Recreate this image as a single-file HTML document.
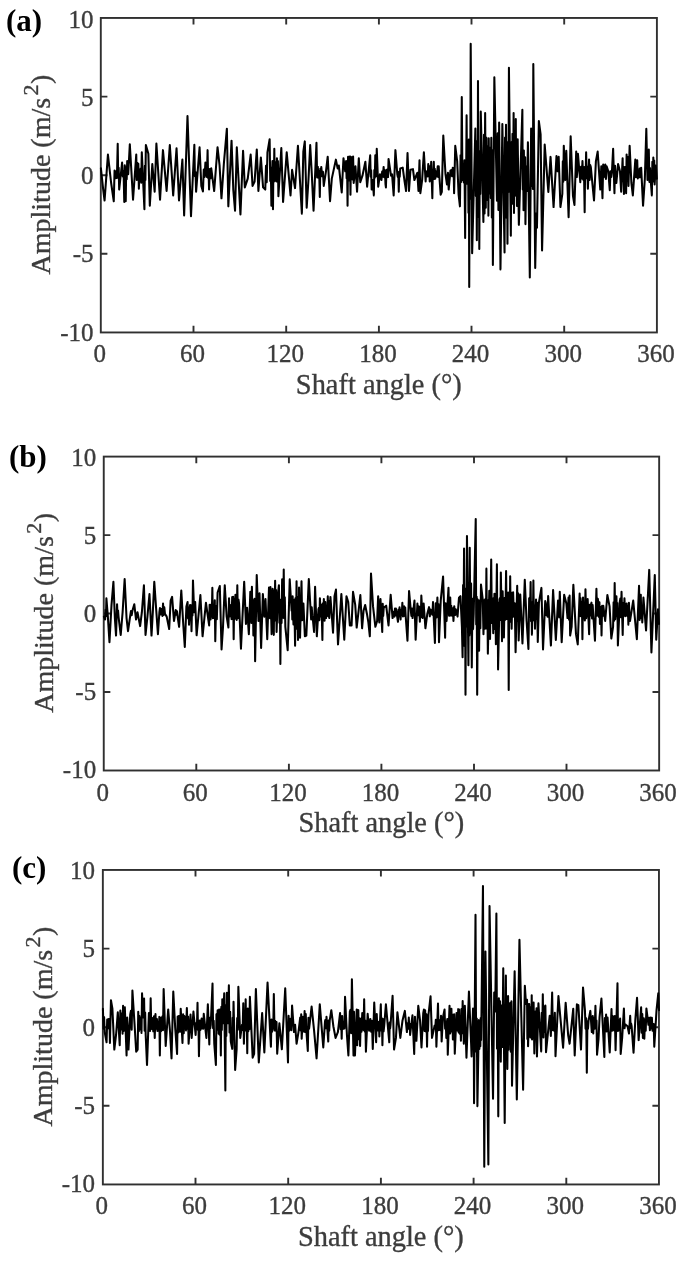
<!DOCTYPE html>
<html><head><meta charset="utf-8"><title>Signals</title>
<style>
html,body{margin:0;padding:0;background:#fff;}
body{width:685px;height:1262px;overflow:hidden;font-family:"Liberation Serif",serif;}
svg{display:block;position:absolute;left:0;top:0;filter:grayscale(1);}
text{font-family:"Liberation Serif",serif;fill:#3c3c3c;stroke:#3c3c3c;stroke-width:0.35px;}
.tk{font-size:25px;}
.al{font-size:28.4px;}
.pl{font-size:31px;font-weight:bold;fill:#000;stroke:none;}
.ax{stroke:#303030;stroke-width:1.9;fill:none;}
.sig{stroke:#000;stroke-width:2.05;fill:none;stroke-linejoin:round;stroke-linecap:round;}
</style></head><body>
<svg width="685" height="1262" viewBox="0 0 685 1262">

<g id="panel-a">
<text class="pl" x="6.0" y="30.5">(a)</text>
<rect class="ax" x="100.8" y="17.95" width="556.1" height="314.5"/>
<path class="ax" d="M193.5 332.45v-6.6M193.5 17.95v6.6M286.2 332.45v-6.6M286.2 17.95v6.6M378.9 332.45v-6.6M378.9 17.95v6.6M471.5 332.45v-6.6M471.5 17.95v6.6M564.2 332.45v-6.6M564.2 17.95v6.6M100.8 96.6h6.6M656.9 96.6h-6.6M100.8 175.2h6.6M656.9 175.2h-6.6M100.8 253.8h6.6M656.9 253.8h-6.6"/>
<text class="tk" x="99.8" y="362.3" text-anchor="middle">0</text>
<text class="tk" x="192.5" y="362.3" text-anchor="middle">60</text>
<text class="tk" x="285.2" y="362.3" text-anchor="middle">120</text>
<text class="tk" x="377.9" y="362.3" text-anchor="middle">180</text>
<text class="tk" x="470.5" y="362.3" text-anchor="middle">240</text>
<text class="tk" x="563.2" y="362.3" text-anchor="middle">300</text>
<text class="tk" x="655.9" y="362.3" text-anchor="middle">360</text>
<text class="tk" x="93.5" y="27.5" text-anchor="end">10</text>
<text class="tk" x="93.5" y="105.8" text-anchor="end">5</text>
<text class="tk" x="93.5" y="184.1" text-anchor="end">0</text>
<text class="tk" x="93.5" y="262.4" text-anchor="end">-5</text>
<text class="tk" x="93.5" y="340.7" text-anchor="end">-10</text>
<text class="al" x="378.8" y="393.9" text-anchor="middle">Shaft angle (°)</text>
<text class="al" style="font-size:28px" transform="translate(49.6 174.5) rotate(-90)" text-anchor="middle">Amplitude (m/s<tspan font-size="22" dx="2.4" dy="-12">2</tspan><tspan dx="0.6" dy="12">)</tspan></text>
<path class="sig" d="M100.92 168.39 103.11 188.83 104.57 200.51 107.93 154.53 111.14 182.99 113.77 201.24 114.56 170.56 115.35 178.31 116.13 171.16 116.92 177.96 117.71 143.87 118.2 176.49 118.68 167.83 119.17 189.56 122.09 162.55 122.82 176.53 123.55 171.02 124.28 201.97 124.77 165.38 125.25 176.69 125.74 201.24 126.23 166.91 126.71 179.22 127.2 161.09 128.22 174.23 129.82 144.31 133.04 199.78 136.25 154.53 136.78 180.06 137.3 162.8 137.83 177.91 138.35 163.82 138.88 188.83 139.46 170.02 140.05 178.35 140.63 168.6 141.22 182.63 141.8 152.34 144.42 209.27 144.91 165.73 145.39 179.91 145.88 145.04 148.36 153.8 149.82 205.62 152.31 164.01 154.64 191.75 156.39 143.58 160.04 199.78 162.96 150.15 166.61 191.02 169.82 145.04 173.18 195.4 176.54 148.25 179.02 200.51 182.38 159.64 184.13 215.4 187.49 116.13 190.99 216.28 194.35 144.74 194.93 176.26 195.52 171.91 196.1 191.75 199.57 147.23 201.32 185.91 202.93 191.46 203.76 169.58 204.58 176.9 205.41 162.55 206.14 169.41 206.87 176.86 207.6 150.15 208.09 177.88 208.57 170.74 209.06 189.56 209.79 168.96 210.52 178.33 211.25 168.39 214.17 191.02 217.53 147.23 219.57 165.47 221.47 198.32 223.95 162.55 226.87 128.69 228.33 206.35 231.54 140.66 233.29 189.56 235.04 210.73 236.8 147.23 240.45 214.38 243.07 150.88 244.82 187.37 247.74 178.61 250.66 154.53 252.56 185.91 254.61 181.53 256.8 149.42 258.4 191.02 260.88 157.45 263.07 187.37 265.26 189.56 265.99 165.85 266.72 182.2 267.45 152.34 269.64 139.2 270.22 181.06 270.81 167.58 271.39 205.62 271.93 177.39 272.46 160.99 273.0 209.27 273.44 162.21 273.87 181.66 274.31 148.69 274.75 180.74 275.19 161.93 275.63 180.07 276.07 163.7 276.5 181.48 276.94 158.18 277.43 179.61 277.91 161.04 278.4 196.13 281.32 147.96 283.07 201.97 286.72 152.34 290.52 195.4 292.09 169.85 295.01 188.1 297.93 145.77 301.87 213.65 303.33 151.61 304.79 141.39 306.69 207.81 308.44 180.07 310.19 145.04 311.8 174.23 313.55 210.73 316.47 142.85 317.14 177.42 317.81 166.86 318.48 177.81 319.15 170.92 319.82 196.86 320.31 168.72 320.79 176.01 321.28 166.93 322.11 176.34 322.94 171.88 323.77 185.91 325.96 171.31 327.71 156.72 330.04 201.24 331.8 178.61 335.88 159.64 337.64 168.39 338.8 165.47 341.72 192.48 343.47 158.18 345.23 171.31 346.1 161.09 346.59 178.14 347.07 165.53 347.56 205.62 348.05 156.8 348.53 177.86 349.02 156.72 349.51 180.5 349.99 156.63 350.48 194.67 350.97 156.9 351.45 178.97 351.94 157.45 352.52 179.43 353.11 156.62 353.69 182.99 355.45 166.2 357.05 191.75 358.8 158.18 360.26 182.26 362.45 175.69 365.37 161.82 367.12 186.64 370.19 155.26 370.68 176.78 371.16 170.36 371.65 189.56 372.67 180.07 373.84 195.4 374.33 169.93 374.81 177.8 375.3 155.26 375.79 169.7 376.27 176.33 376.76 148.69 378.22 186.64 379.97 174.23 381.43 180.07 382.16 171.49 382.89 176.73 383.62 166.93 384.25 177.29 384.89 170.18 385.52 184.45 385.92 187.37 386.45 170.15 386.97 175.84 387.5 169.16 388.02 177.1 388.55 158.91 391.03 175.69 392.05 174.23 393.66 195.4 395.41 150.15 397.31 174.23 397.8 176.88 398.28 171.9 398.77 191.75 399.26 172.99 399.74 176.63 400.23 168.39 402.71 167.66 404.61 181.53 406.07 191.02 407.53 153.07 408.99 191.02 410.45 169.85 412.93 169.12 414.39 180.07 417.31 172.77 418.47 191.02 419.5 160.36 420.37 193.21 422.12 180.07 423.88 152.34 425.63 181.53 426.16 171.66 426.68 176.18 427.21 170.97 427.73 176.46 428.26 164.01 428.75 176.25 429.23 165.95 429.72 181.53 430.21 170.99 430.69 176.88 431.18 161.82 432.34 198.32 432.83 169.49 433.31 176.52 433.8 161.82 434.29 178.92 434.77 168.78 435.26 178.61 436.09 171.43 436.91 176.46 437.74 166.2 438.23 176.91 438.71 166.26 439.2 174.23 440.66 194.67 441.83 191.75 443.29 135.55 445.48 174.23 446.94 184.45 447.96 172.77 448.69 189.56 450.45 170.58 451.23 170.11 452.0 176.18 452.78 167.66 453.22 175.93 453.65 170.11 454.09 193.21 455.26 145.77 457.16 161.09 458.62 194.67 459.93 206.35 460.55 155.2 461.16 181.9 461.78 97.04 462.45 179.88 463.12 165.87 463.8 182.36 464.47 160.27 465.14 237.99 465.63 163.38 466.11 179.0 466.6 115.29 467.09 183.67 467.57 155.36 468.06 151.79 468.45 212.84 468.84 139.54 469.23 286.9 469.72 146.28 470.2 198.8 470.69 43.76 472.15 253.32 475.36 128.43 475.85 195.87 476.33 140.97 476.82 240.18 477.21 148.42 477.6 216.45 477.99 80.99 478.43 216.99 478.86 150.93 479.3 248.94 479.79 155.11 480.27 193.98 480.76 111.64 483.39 221.93 483.97 134.67 484.56 213.51 485.14 113.1 485.77 207.83 486.41 137.72 487.04 200.04 488.06 145.95 488.4 215.62 488.74 138.25 489.08 186.9 489.47 147.48 489.86 193.43 490.25 148.87 490.78 198.1 491.3 137.69 491.83 217.5 492.35 149.98 492.88 265.0 494.34 77.34 496.96 200.77 497.69 133.26 498.42 210.01 499.15 122.59 500.47 269.38 502.36 124.05 504.55 252.59 505.04 137.52 505.52 192.44 506.01 124.78 506.5 217.76 506.98 142.04 507.47 243.83 507.96 145.34 508.44 191.98 508.93 67.85 510.83 235.8 511.39 142.27 511.94 203.99 512.5 133.66 513.05 201.17 513.61 113.1 514.0 213.08 514.38 155.59 514.77 140.11 515.11 153.1 515.46 195.31 515.8 118.94 516.19 195.88 516.57 149.28 516.96 205.88 517.69 139.38 518.86 224.85 522.36 109.74 522.75 189.39 523.14 158.69 523.53 210.26 523.87 150.48 524.21 190.62 524.55 160.55 524.84 192.11 525.14 157.33 525.43 224.12 526.26 166.77 527.08 190.98 527.91 142.3 529.81 277.41 531.12 128.43 531.46 186.05 531.81 158.41 532.15 166.39 532.54 156.88 532.92 188.88 533.31 63.91 535.21 267.92 536.23 213.18 536.96 227.77 538.86 121.13 540.61 134.27 542.07 250.4 544.7 144.49 548.35 192.01 550.54 156.9 553.57 207.08 556.49 155.99 557.66 171.31 558.68 156.72 560.43 207.08 562.33 193.94 562.82 161.22 563.3 181.82 563.79 145.77 565.25 180.07 566.27 150.88 568.61 217.3 570.65 136.28 572.99 196.13 574.45 204.89 576.2 151.61 576.78 177.08 577.37 169.59 577.95 153.8 580.28 182.26 581.01 166.68 581.74 178.54 582.47 161.09 583.2 179.8 583.93 167.25 584.66 212.19 585.15 166.7 585.63 178.36 586.12 152.34 586.71 178.15 587.29 166.45 587.88 188.83 589.04 159.64 589.63 179.9 590.21 164.97 590.8 166.93 594.01 200.51 595.91 161.09 597.66 151.61 600.28 189.56 601.31 166.2 602.47 198.32 603.2 164.49 603.93 177.11 604.66 172.77 605.29 164.49 605.93 178.89 606.56 166.2 608.31 171.31 609.77 190.29 610.5 171.16 611.23 177.05 611.96 171.31 613.13 148.69 614.45 193.21 615.08 165.71 615.71 179.06 616.34 182.99 618.09 164.01 619.99 171.31 621.16 191.75 622.62 158.18 623.06 181.34 623.49 166.65 623.93 193.94 625.1 166.93 626.12 193.21 626.61 154.6 627.09 178.78 627.58 156.72 628.46 185.91 629.63 145.77 631.38 182.99 632.84 195.4 635.32 159.64 635.95 177.28 636.59 168.64 637.22 160.36 637.8 178.48 638.39 170.9 638.97 177.15 639.7 168.44 640.43 177.12 641.16 167.66 643.06 205.62 644.85 178.61 646.31 128.69 647.48 180.07 648.8 149.42 649.43 182.06 650.06 168.13 650.69 180.07 651.86 195.4 652.35 161.68 652.83 177.74 653.32 157.45 653.76 181.45 654.2 160.58 654.64 184.45 655.8 165.47 656.82 178.61"/>
</g>
<g id="panel-b">
<text class="pl" x="9.0" y="466.6">(b)</text>
<rect class="ax" x="103.75" y="456.6" width="555.4" height="313.9"/>
<path class="ax" d="M196.3 770.45v-6.6M196.3 456.6v6.6M288.9 770.45v-6.6M288.9 456.6v6.6M381.4 770.45v-6.6M381.4 456.6v6.6M474.0 770.45v-6.6M474.0 456.6v6.6M566.5 770.45v-6.6M566.5 456.6v6.6M103.75 535.1h6.6M659.1 535.1h-6.6M103.75 613.5h6.6M659.1 613.5h-6.6M103.75 692.0h6.6M659.1 692.0h-6.6"/>
<text class="tk" x="102.8" y="801.2" text-anchor="middle">0</text>
<text class="tk" x="195.3" y="801.2" text-anchor="middle">60</text>
<text class="tk" x="287.9" y="801.2" text-anchor="middle">120</text>
<text class="tk" x="380.4" y="801.2" text-anchor="middle">180</text>
<text class="tk" x="473.0" y="801.2" text-anchor="middle">240</text>
<text class="tk" x="565.5" y="801.2" text-anchor="middle">300</text>
<text class="tk" x="658.1" y="801.2" text-anchor="middle">360</text>
<text class="tk" x="96.2" y="465.5" text-anchor="end">10</text>
<text class="tk" x="96.2" y="543.7" text-anchor="end">5</text>
<text class="tk" x="96.2" y="622.0" text-anchor="end">0</text>
<text class="tk" x="96.2" y="700.2" text-anchor="end">-5</text>
<text class="tk" x="96.2" y="778.4" text-anchor="end">-10</text>
<text class="al" x="381.4" y="832.0" text-anchor="middle">Shaft angle (°)</text>
<text class="al" style="font-size:28px" transform="translate(52.5 612.8) rotate(-90)" text-anchor="middle">Amplitude (m/s<tspan font-size="22" dx="2.4" dy="-12">2</tspan><tspan dx="0.6" dy="12">)</tspan></text>
<path class="sig" d="M103.92 616.61 105.09 619.53 105.53 609.83 105.96 616.26 106.4 598.36 107.86 616.61 109.47 642.16 111.51 604.93 113.41 581.87 114.87 618.07 116.04 635.59 117.06 604.2 117.55 615.53 118.03 610.42 118.52 616.61 120.71 634.86 122.61 612.23 124.65 578.95 126.55 618.07 128.01 631.21 130.2 615.88 130.93 611.12 131.66 615.26 132.39 610.77 134.28 604.2 136.04 619.53 137.5 612.23 140.12 626.1 141.88 612.23 143.92 585.23 145.53 634.86 147.42 616.61 149.47 593.99 151.51 635.59 152.82 612.23 154.28 581.87 156.18 609.31 157.93 634.13 159.39 612.23 159.98 607.98 160.56 614.46 161.15 609.31 161.78 608.86 162.41 615.89 163.04 603.47 163.67 614.93 164.31 607.33 164.94 613.69 166.69 616.61 169.18 629.02 170.64 600.55 172.09 596.91 173.99 620.99 175.74 610.04 176.37 614.6 177.01 611.33 177.64 616.61 179.1 626.83 181.29 590.63 183.04 620.99 184.8 646.98 186.4 606.39 187.57 602.01 188.06 618.59 188.54 607.27 189.03 624.64 190.05 604.93 190.54 617.86 191.02 605.31 191.51 631.21 192.0 608.48 192.48 615.5 192.97 580.41 194.14 612.23 195.16 602.01 196.62 635.3 200.38 595.01 202.57 636.32 205.93 602.74 209.14 625.37 209.63 604.75 210.11 616.54 210.6 619.53 211.18 604.49 211.77 616.48 212.35 587.71 212.84 618.11 213.32 606.63 213.81 618.07 214.3 617.4 214.78 600.18 215.27 641.14 216.05 606.18 216.83 619.26 217.61 592.53 219.8 585.96 221.55 649.46 223.01 626.83 224.76 585.23 226.66 616.61 228.41 627.56 229.04 598.35 229.68 616.47 230.31 604.93 230.94 607.52 231.57 619.1 232.2 596.91 232.69 618.62 233.17 596.84 233.66 639.24 234.25 599.14 234.83 618.73 235.42 594.72 236.05 602.2 236.68 619.98 237.31 585.23 237.9 618.11 238.48 599.54 239.07 603.47 240.96 648.73 242.42 618.07 244.18 581.87 245.93 623.91 247.09 607.85 248.85 634.13 250.31 591.8 250.84 595.69 251.38 622.94 251.91 586.69 252.4 618.24 252.88 600.02 253.37 635.59 253.95 616.5 254.54 598.76 255.12 661.14 256.73 575.01 258.48 620.99 259.5 593.26 261.11 648.0 262.86 593.99 264.32 616.61 265.49 599.09 267.24 639.24 268.99 587.42 269.48 603.52 269.96 618.34 270.45 587.12 271.62 634.13 272.64 588.88 273.81 634.86 274.25 590.25 274.68 617.14 275.12 580.85 275.61 620.5 276.09 590.04 276.58 631.94 277.75 596.18 278.92 585.23 279.41 622.75 279.89 600.86 280.38 664.06 280.96 599.42 281.55 622.89 282.13 579.39 282.67 603.14 283.2 617.83 283.74 569.61 284.27 618.23 284.81 597.16 285.34 626.83 287.68 650.19 289.72 579.39 291.62 610.77 291.96 603.96 292.3 619.47 292.64 596.18 293.46 624.51 294.27 599.77 295.09 645.81 295.58 598.06 296.06 626.52 296.55 581.28 297.04 628.74 297.52 606.84 298.01 639.97 298.35 596.83 298.69 631.48 299.03 587.42 299.37 624.83 299.71 602.08 300.05 637.78 301.51 581.28 302.14 620.27 302.78 606.66 303.41 603.47 304.87 636.32 306.33 635.59 308.81 578.95 311.15 619.53 311.73 607.35 312.32 615.69 312.9 619.53 314.07 631.94 315.09 586.69 316.84 636.32 318.45 609.31 318.94 607.7 319.42 620.16 319.91 598.36 320.74 616.45 321.56 604.8 322.39 639.97 322.88 603.37 323.36 616.32 323.85 599.09 324.58 620.76 325.31 602.07 326.04 618.07 326.62 608.24 327.21 615.67 327.79 596.18 328.28 616.33 328.76 600.65 329.25 618.07 330.42 596.91 333.04 632.67 334.5 596.18 335.96 589.61 338.01 644.35 341.36 593.99 344.28 639.68 346.47 596.18 348.23 602.01 349.83 625.37 351.58 625.37 353.04 591.8 355.23 604.93 356.69 627.56 358.45 612.23 360.34 595.01 362.09 628.29 363.55 610.77 365.16 604.93 366.91 613.69 368.37 622.45 369.83 636.32 371.0 573.55 373.04 606.39 375.38 626.83 377.13 620.99 378.15 596.18 379.32 622.45 380.49 599.09 382.24 631.94 382.73 603.72 383.21 615.85 383.7 607.85 386.18 605.66 388.52 625.37 390.67 594.72 392.57 618.07 393.2 611.78 393.84 614.97 394.47 616.61 394.96 608.62 395.44 615.22 395.93 608.58 397.97 621.72 398.5 609.44 399.02 614.72 399.55 607.37 400.07 615.46 400.6 619.53 401.18 609.63 401.77 614.83 402.35 602.74 402.98 616.39 403.62 606.95 404.25 606.39 404.74 616.05 405.22 607.53 405.71 616.61 407.46 640.7 409.07 591.07 410.82 610.77 411.4 615.92 411.99 608.53 412.57 618.07 414.47 600.55 415.64 639.68 417.39 603.47 418.22 615.26 419.04 606.4 419.87 621.72 420.36 607.95 420.84 616.99 421.33 595.45 422.5 618.07 423.66 603.47 425.42 628.29 427.31 613.69 429.07 607.12 429.8 616.33 430.53 609.45 431.26 613.69 431.84 610.15 432.43 614.78 433.01 602.01 434.91 642.89 435.74 603.32 436.56 617.39 437.39 597.64 437.92 616.82 438.46 604.09 438.99 642.16 440.74 600.55 443.08 576.47 445.12 637.78 445.61 603.24 446.09 617.21 446.58 620.99 448.48 587.71 449.06 615.82 449.65 609.65 450.23 597.64 450.72 615.44 451.2 605.71 451.69 610.77 452.28 615.61 452.86 608.24 453.45 620.99 454.23 606.19 455.0 615.03 455.78 609.31 457.53 616.61 458.99 597.64 460.45 596.18 461.91 626.83 462.59 657.26 463.08 585.1 463.56 626.71 464.05 548.5 464.54 645.89 465.02 588.53 465.51 694.77 466.0 591.03 466.48 626.37 466.97 536.09 468.43 665.28 468.87 588.71 469.3 635.46 469.74 547.77 470.42 633.33 471.11 583.6 471.79 667.47 472.42 598.79 473.06 629.14 473.69 614.19 475.73 519.01 476.22 624.58 476.7 596.7 477.19 694.77 477.82 599.47 478.46 622.76 479.09 650.69 479.72 600.55 480.36 628.18 480.99 584.55 482.74 599.59 483.47 634.34 484.2 600.22 484.93 628.79 485.42 598.96 485.9 628.52 486.39 568.64 486.88 620.49 487.36 599.92 487.85 653.61 489.31 590.83 490.04 639.01 491.2 559.45 491.88 622.9 492.57 599.4 493.25 633.17 493.64 598.1 494.03 625.3 494.42 593.75 494.91 628.89 495.39 594.54 495.88 644.12 496.9 564.26 497.29 624.09 497.68 602.47 498.07 669.37 499.53 599.59 499.97 598.0 500.4 620.08 500.84 572.58 502.01 641.2 502.64 591.3 503.28 619.29 503.91 637.55 504.64 598.04 505.36 619.75 506.09 571.12 506.62 618.9 507.14 598.76 507.67 619.06 508.19 592.5 508.72 690.1 509.21 593.49 509.69 621.9 510.18 576.23 510.67 619.56 511.15 592.47 511.64 628.79 512.13 604.83 512.61 616.87 513.1 592.29 513.93 616.57 514.75 603.24 515.58 652.15 517.19 585.72 517.68 620.93 518.16 593.18 518.65 640.47 520.26 594.48 522.45 643.39 524.78 579.88 526.53 620.03 528.43 648.93 529.16 598.26 529.89 616.71 530.62 582.07 531.06 621.35 531.49 604.43 531.93 634.63 532.42 601.92 532.9 618.65 533.39 580.61 533.93 620.59 534.46 605.24 535.0 628.79 536.02 599.59 536.6 618.81 537.19 602.75 537.77 641.93 538.94 602.51 541.42 587.91 543.03 649.52 545.22 601.05 545.8 603.27 546.39 615.1 546.97 604.76 547.56 616.61 548.14 595.94 550.91 645.58 553.1 590.1 555.84 639.97 558.03 600.55 558.61 602.74 559.2 617.35 559.78 591.8 561.68 642.16 564.16 594.72 566.35 603.47 567.52 618.07 568.54 597.64 569.08 619.72 569.61 595.61 570.15 635.59 571.61 626.83 573.36 584.79 575.99 634.13 577.74 644.35 579.64 593.55 580.08 615.89 580.51 598.07 580.95 603.47 581.44 616.35 581.92 602.63 582.41 639.24 583.02 597.56 583.63 617.01 584.25 606.12 584.86 620.39 585.47 589.31 586.2 618.11 586.93 608.21 587.66 599.09 589.12 634.13 589.71 604.77 590.29 615.55 590.88 604.93 591.46 602.64 592.05 618.53 592.63 604.93 594.96 640.7 596.42 588.88 597.1 615.78 597.79 598.72 598.47 603.47 598.96 617.03 599.44 602.26 599.93 623.91 600.46 616.7 601.0 607.12 601.53 635.59 602.11 605.87 602.7 615.97 603.28 605.66 605.18 620.99 607.37 595.01 609.56 606.39 611.31 638.51 613.07 626.83 613.6 602.26 614.14 620.78 614.67 583.04 615.25 619.19 615.84 604.2 616.42 596.18 616.91 616.24 617.39 603.09 617.88 645.52 619.78 602.01 620.36 598.48 620.95 617.29 621.53 591.8 622.7 634.86 623.28 603.05 623.87 615.14 624.45 598.36 625.18 616.14 625.91 606.42 626.64 603.47 627.22 616.02 627.81 606.33 628.39 624.64 628.93 602.69 629.46 615.86 630.0 620.99 633.21 600.55 636.86 639.24 639.05 585.66 639.63 619.88 640.22 598.6 640.8 594.72 641.29 617.86 641.77 606.74 642.26 622.45 643.43 597.64 646.06 630.48 649.23 569.9 651.42 652.38 654.78 575.01 656.24 639.68 657.99 609.31 659.01 623.91"/>
</g>
<g id="panel-c">
<text class="pl" x="12.0" y="877.6">(c)</text>
<rect class="ax" x="102.85" y="869.95" width="556.1" height="314.5"/>
<path class="ax" d="M195.5 1184.45v-6.6M195.5 869.95v6.6M288.2 1184.45v-6.6M288.2 869.95v6.6M380.9 1184.45v-6.6M380.9 869.95v6.6M473.6 1184.45v-6.6M473.6 869.95v6.6M566.3 1184.45v-6.6M566.3 869.95v6.6M102.85 948.6h6.6M659.0 948.6h-6.6M102.85 1027.2h6.6M659.0 1027.2h-6.6M102.85 1105.8h6.6M659.0 1105.8h-6.6"/>
<text class="tk" x="101.8" y="1214.2" text-anchor="middle">0</text>
<text class="tk" x="194.5" y="1214.2" text-anchor="middle">60</text>
<text class="tk" x="287.2" y="1214.2" text-anchor="middle">120</text>
<text class="tk" x="379.9" y="1214.2" text-anchor="middle">180</text>
<text class="tk" x="472.6" y="1214.2" text-anchor="middle">240</text>
<text class="tk" x="565.3" y="1214.2" text-anchor="middle">300</text>
<text class="tk" x="658.0" y="1214.2" text-anchor="middle">360</text>
<text class="tk" x="95.0" y="878.6" text-anchor="end">10</text>
<text class="tk" x="95.0" y="957.1" text-anchor="end">5</text>
<text class="tk" x="95.0" y="1035.5" text-anchor="end">0</text>
<text class="tk" x="95.0" y="1114.0" text-anchor="end">-5</text>
<text class="tk" x="95.0" y="1192.4" text-anchor="end">-10</text>
<text class="al" x="380.9" y="1246.0" text-anchor="middle">Shaft angle (°)</text>
<text class="al" style="font-size:28px" transform="translate(51.6 1026.5) rotate(-90)" text-anchor="middle">Amplitude (m/s<tspan font-size="22" dx="2.4" dy="-12">2</tspan><tspan dx="0.6" dy="12">)</tspan></text>
<path class="sig" d="M102.92 1008.72 103.5 1028.72 104.09 1017.05 104.67 1032.07 106.57 1042.29 107.2 1019.59 107.84 1028.39 108.47 1018.93 108.96 1028.32 109.44 1018.98 109.93 1043.02 110.95 1000.25 112.41 1008.72 114.31 1049.59 116.06 1034.99 117.81 1012.36 119.71 1045.21 120.34 1010.61 120.98 1029.47 121.61 1024.77 122.1 1013.16 122.58 1033.68 123.07 1005.8 123.65 1030.87 124.24 1008.71 124.82 1007.26 126.57 1055.43 127.2 1017.48 127.84 1029.58 128.47 1049.59 130.22 1014.55 130.95 1010.75 131.68 1029.76 132.41 990.47 134.31 1020.39 136.2 1051.78 137.66 1049.59 138.25 1011.71 138.83 1031.15 139.42 1016.01 139.94 1019.77 140.47 1029.39 140.99 1017.77 141.52 1032.88 142.04 993.39 143.07 1017.47 144.09 998.5 144.62 1030.82 145.16 1012.45 145.69 1034.99 147.01 1064.92 148.91 1013.09 149.49 1020.17 150.08 1031.02 150.66 998.2 151.29 1029.06 151.92 1017.73 152.55 1023.31 153.28 1031.31 154.01 1016.35 154.74 1037.91 155.47 1014.13 156.2 1028.61 156.93 1018.93 157.42 1030.89 157.9 1021.49 158.39 1030.61 158.88 1028.32 159.36 1016.9 159.85 1055.43 160.44 1017.75 161.02 1031.31 161.61 1020.39 162.29 1016.66 162.97 1030.31 163.65 989.01 165.69 1045.94 168.18 1009.45 170.07 1032.07 171.53 1058.35 173.28 991.49 175.18 1027.69 177.08 1053.97 177.66 1016.52 178.25 1032.48 178.83 1016.01 179.46 1016.32 180.1 1031.67 180.73 1008.72 182.48 1043.02 183.11 1014.34 183.75 1033.19 184.38 1016.01 185.21 1018.49 186.03 1030.39 186.86 1007.99 187.44 1028.72 188.03 1016.46 188.61 1043.75 190.51 1014.55 191.68 1037.91 193.43 1011.64 195.62 1034.99 196.25 1023.12 196.89 1028.38 197.52 1002.88 197.99 1029.97 198.47 1023.42 198.94 1056.16 199.67 1020.45 200.4 1030.0 201.13 1021.85 201.66 1018.46 202.18 1028.46 202.71 1021.3 203.23 1028.66 203.76 1013.82 206.39 1037.91 207.85 1004.34 209.31 1044.48 209.8 1017.87 210.28 1028.13 210.77 1024.77 212.52 983.61 213.1 1028.34 213.69 1020.86 214.27 1043.75 215.88 1064.92 216.46 1014.29 217.05 1029.74 217.63 1010.18 218.12 1012.38 218.6 1033.77 219.09 1009.45 219.67 1034.65 220.26 1009.77 220.84 1055.43 221.33 1006.89 221.81 1030.1 222.3 999.23 223.18 1023.31 224.2 993.39 225.36 1090.47 225.85 1005.04 226.33 1035.97 226.82 992.66 227.85 1023.31 228.87 985.36 229.5 1032.52 230.14 1011.85 230.77 1041.56 232.23 1048.86 232.67 1017.87 233.1 1030.2 233.54 1001.71 235.15 1070.03 236.61 1049.59 237.19 1018.05 237.78 1029.72 238.36 986.82 240.26 1037.91 242.01 1024.77 242.64 1029.9 243.28 1003.35 243.91 1043.75 244.49 1019.28 245.08 1030.13 245.66 999.23 246.19 1030.7 246.73 1019.61 247.26 1053.24 247.79 1008.49 248.31 1031.22 248.84 1015.0 249.36 1029.28 249.89 996.74 252.66 1057.62 254.12 1053.97 255.88 989.01 258.8 1062.44 262.15 1013.09 264.34 1052.51 267.55 982.44 270.91 1046.67 271.49 1019.56 272.08 1031.79 272.66 1020.62 273.25 1028.5 273.83 994.12 274.5 1030.56 275.17 1020.77 275.85 1030.62 276.52 1021.99 277.19 1053.68 279.38 1023.31 281.86 1049.3 285.22 988.28 287.99 1062.44 288.62 1015.87 289.26 1030.61 289.89 1023.31 290.62 1018.76 291.35 1030.31 292.08 1005.5 293.98 1032.07 295.11 1024.77 296.57 1043.75 298.47 1032.07 300.22 1017.47 300.71 1030.58 301.19 1014.31 301.68 1038.64 302.85 1016.74 303.43 1019.99 304.02 1031.72 304.6 1010.91 305.18 1031.89 305.77 1014.03 306.35 1030.61 307.81 1051.05 308.44 1017.69 309.08 1028.66 309.71 1023.31 311.61 1006.53 314.09 1030.61 316.57 1058.35 319.78 1004.34 323.28 1047.4 325.04 1021.12 325.53 1019.68 326.01 1028.29 326.5 1016.74 328.25 1041.56 328.74 1020.54 329.22 1030.66 329.71 1020.39 331.31 1010.18 333.36 1026.23 335.55 1037.91 337.88 1032.07 340.07 1013.09 340.61 1029.33 341.14 1016.18 341.68 1038.64 342.21 1016.05 342.75 1029.08 343.28 1024.77 343.87 1021.63 344.45 1028.57 345.04 996.74 346.93 1034.99 348.39 1055.43 349.85 1011.64 350.53 1009.68 351.22 1033.13 351.9 979.23 353.5 1055.43 353.99 1011.73 354.47 1043.59 354.96 1055.43 356.72 1009.45 357.25 1045.11 357.79 1009.95 358.32 1010.18 358.9 1039.16 359.49 1018.27 360.07 1045.94 360.8 1018.87 361.53 1031.68 362.26 1013.09 362.89 1018.23 363.53 1030.04 364.16 999.23 364.74 1031.36 365.33 1020.53 365.91 1051.78 367.66 1013.82 369.12 1030.61 370.29 1018.93 371.12 1031.7 371.94 1020.78 372.77 1048.86 374.23 1002.58 376.13 1042.29 376.76 1014.12 377.4 1030.53 378.03 1026.23 378.47 1030.15 378.9 1021.68 379.34 1036.45 380.8 1004.34 381.34 1030.51 381.87 1018.16 382.41 1045.21 382.99 1018.98 383.58 1031.3 384.16 1026.23 385.91 1004.34 389.27 1042.29 389.7 1022.6 390.12 1028.39 390.55 1024.77 392.59 995.87 394.05 1049.59 395.95 1037.91 397.41 1012.36 400.33 1037.91 402.52 1020.39 404.85 1010.91 406.9 1032.07 407.53 1023.23 408.17 1028.72 408.8 1017.47 409.24 1028.38 409.67 1023.79 410.11 1034.99 412.45 1015.28 414.2 1053.97 414.93 1016.66 415.66 1031.18 416.39 1040.83 418.28 1005.8 420.04 1020.39 421.5 1047.4 423.25 1013.09 423.88 1009.62 424.52 1030.99 425.15 1010.18 425.78 1031.4 426.41 1014.38 427.04 1046.67 427.53 1020.94 428.01 1031.09 428.5 1014.55 430.55 996.31 432.01 1037.91 434.64 1025.5 435.22 1028.49 435.81 1019.74 436.39 1046.67 437.99 1003.61 438.57 1030.17 439.16 1019.94 439.74 1020.39 440.37 1030.17 441.01 1015.87 441.64 1041.56 442.96 1017.47 444.56 1009.45 445.14 1028.73 445.73 1021.24 446.31 1037.91 446.8 1029.52 447.28 1019.06 447.77 1054.7 449.53 1005.8 450.16 1033.5 450.79 1015.51 451.42 1008.72 451.91 1031.42 452.39 1014.63 452.88 1039.37 453.51 1031.15 454.15 1014.36 454.78 1053.68 456.53 1013.09 457.7 1030.61 458.19 1009.15 458.67 1032.41 459.16 1009.45 459.74 1033.65 460.33 1017.86 460.91 1040.83 461.49 1009.13 462.08 1033.13 462.66 1001.12 463.83 1043.75 464.85 1005.8 466.46 1057.62 468.94 991.49 471.13 1043.75 471.57 1056.5 473.03 1008.47 473.37 1036.89 473.71 1022.55 474.05 1103.21 475.51 914.74 476.14 1051.43 476.78 1018.52 477.41 1106.13 478.87 1020.15 479.36 1048.9 479.84 1023.15 480.33 1046.28 480.72 1018.09 481.11 1039.9 481.5 1011.39 482.96 886.13 484.27 1166.72 485.44 951.53 488.36 1164.53 489.53 905.99 493.03 1098.83 494.2 992.41 495.22 1011.39 496.39 913.58 497.02 1048.62 497.65 1006.06 498.28 1116.35 498.87 998.3 499.45 1042.33 500.04 1001.17 500.77 1061.61 501.6 1005.42 502.42 1047.05 503.25 968.32 504.71 1122.92 505.88 975.62 506.37 1057.22 506.85 1016.58 507.34 1068.91 508.07 996.06 508.56 1049.74 509.04 1016.61 509.53 1041.9 510.16 1002.99 510.79 1051.65 511.42 1001.17 512.01 1085.69 514.64 971.24 516.82 1099.56 519.45 939.85 523.1 1089.78 524.85 985.84 526.02 1004.09 527.04 999.71 527.38 1039.09 527.73 1003.76 528.07 1046.28 529.23 1004.09 529.62 1031.43 530.01 1006.91 530.4 1037.52 530.84 1017.52 531.28 1035.34 531.72 995.33 532.06 1039.4 532.4 1015.41 532.74 1011.39 533.61 1002.63 534.34 1053.58 535.66 1011.39 536.1 1036.86 536.53 1008.19 536.97 1056.5 538.43 1003.36 541.2 1051.39 541.74 1012.69 542.27 1031.77 542.81 994.16 543.45 1037.51 544.09 1006.54 544.74 1031.89 545.38 1005.64 546.02 1052.12 549.67 1015.77 550.84 1036.06 552.15 992.41 552.82 1030.26 553.49 1018.8 554.17 1030.66 554.84 1012.8 555.51 1056.2 558.43 996.06 563.1 1047.74 565.66 1002.88 568.14 1034.99 569.6 1043.75 573.25 1008.72 574.71 1055.43 576.9 1004.34 578.36 1005.07 580.99 1049.59 583.03 987.55 584.93 1010.18 585.56 1028.65 586.19 1018.16 586.82 1072.66 587.41 1021.87 587.99 1028.76 588.58 1020.39 590.33 1010.91 591.79 1032.07 592.28 1029.27 592.76 1016.09 593.25 1033.53 593.98 1018.39 594.71 1028.82 595.44 1005.8 595.97 1028.25 596.51 1020.61 597.04 1054.7 598.5 1039.37 599.53 1017.47 601.42 998.5 604.34 1056.89 604.92 1017.94 605.51 1028.86 606.09 1014.55 606.58 1031.53 607.06 1021.89 607.55 1017.47 609.74 1052.51 611.5 1009.01 612.13 1030.61 612.76 1016.08 613.39 1021.85 614.12 1030.43 614.85 1015.95 615.58 1050.32 617.48 983.17 617.97 1030.98 618.45 1020.74 618.94 1020.39 619.52 1030.13 620.11 1018.49 620.69 1053.97 622.15 1037.91 623.91 1008.42 624.54 1028.24 625.17 1024.18 625.8 1024.77 627.55 1026.23 629.01 1033.53 630.18 1015.72 630.67 1028.05 631.15 1023.63 631.64 1026.23 633.54 1052.8 635.29 1020.39 637.04 997.77 638.65 1040.1 641.13 1007.26 641.71 1032.62 642.3 1014.07 642.88 1037.91 643.37 1029.73 643.85 1018.39 644.34 1038.64 645.02 1019.94 645.71 1030.67 646.39 1008.42 648.43 1024.77 649.16 1017.84 649.89 1030.23 650.62 1017.47 651.25 1028.37 651.89 1017.82 652.52 1030.61 653.1 1028.66 653.69 1023.93 654.27 1046.67 656.53 1010.18 658.28 993.39 659.01 1010.18"/>
</g>
</svg></body></html>
